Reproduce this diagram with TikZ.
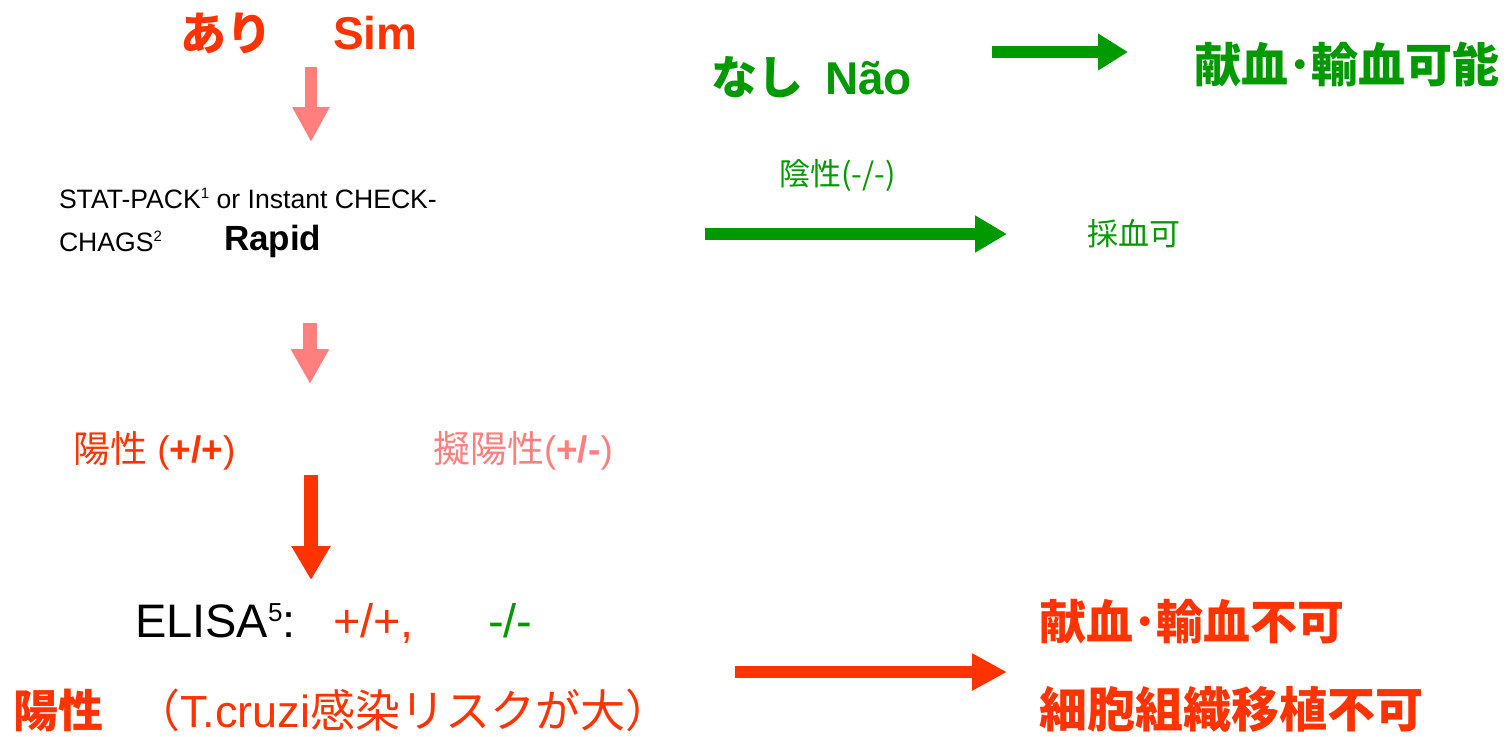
\documentclass[tikz,border=0pt]{standalone}
\usepackage{fontspec}
\setmainfont{Liberation Sans}
\newfontfamily\cjk{Noto Sans CJK JP}
\usetikzlibrary{arrows.meta}
\definecolor{cred}{HTML}{FF3300}
\definecolor{cpink}{HTML}{FF7F7F}
\definecolor{cgreen}{HTML}{009900}
\newcommand\pxfont[1]{\fontsize{#1}{#1}\selectfont}
\newcommand\supx[3]{\raisebox{#2}{\fontsize{#1}{#1}\selectfont #3}}
\tikzset{
  txt/.style={anchor=base west, inner sep=0pt, outer sep=0pt},
  barrow/.style={line width=6pt, -{Triangle[width=17.5pt,length=17.5pt]}},
}
\begin{document}
\begin{tikzpicture}[x=0.5pt,y=-0.5pt]
\useasboundingbox (0,0) rectangle (1512,736);
% top left
\node[txt, text=cred] (ari) at (180,50) {\pxfont{23pt}\cjk\bfseries あり};
\node[txt, text=cred] (sim) at (333,49) {\pxfont{23pt}\bfseries Sim};
% top right
\node[txt, text=cgreen] (nashi) at (711,94) {\pxfont{23pt}\cjk\bfseries なし};
\node[txt, text=cgreen] (nao) at (825,94) {\pxfont{23pt}\bfseries Não};
\node[txt, text=cgreen] (kaketsu) at (1194,82) {\pxfont{23.5pt}\cjk\bfseries 献血･輸血可能};
\node[txt, text=cgreen] (insei) at (779,185) {\pxfont{15.5pt}\cjk 陰性(-/-)};
\node[txt, text=cgreen] (saiketsu) at (1087,245) {\pxfont{15.5pt}\cjk 採血可};
% rapid test
\node[txt] (stat) at (59,208) {\pxfont{13.3pt}STAT-PACK\supx{7.5pt}{4.6pt}{1} or Instant CHECK-};
\node[txt] (chags) at (59,251) {\pxfont{13.3pt}CHAGS\supx{7.5pt}{4.6pt}{2}};
\node[txt] (rapid) at (224,250) {\pxfont{17.5pt}\bfseries Rapid};
% results
\node[txt, text=cred] (yosei) at (73,462) {\pxfont{18.5pt}{\cjk 陽性} (\textbf{+/+})};
\node[txt, text=cpink] (giyosei) at (433,462) {\pxfont{18.5pt}{\cjk 擬陽性}(\textbf{+/-})};
% ELISA
\node[txt] (elisa) at (135,637) {\pxfont{23.5pt}ELISA\supx{13pt}{8pt}{5}:};
\node[txt, text=cred] (elpos) at (333,637) {\pxfont{23.5pt}+/+,};
\node[txt, text=cgreen] (elneg) at (488,637) {\pxfont{23.5pt}-/-};
\node[txt, text=cred] (yosei2) at (13,727) {\pxfont{22.5pt}\cjk\bfseries 陽性};
\node[txt, text=cred] (risk) at (135,727) {\pxfont{22.5pt}{\cjk （}T.cruzi{\cjk 感染リスクが大）}};
\node[txt, text=cred] (fuka1) at (1039,639) {\pxfont{23.5pt}\cjk\bfseries 献血･輸血不可};
\node[txt, text=cred] (fuka2) at (1039,727) {\pxfont{24pt}\cjk\bfseries 細胞組織移植不可};
% arrow coordinates
\coordinate (a1s) at (311,67);  \coordinate (a1e) at (311,142);
\coordinate (a2s) at (310,323); \coordinate (a2e) at (310,384);
\coordinate (a3s) at (311,475); \coordinate (a3e) at (311,580);
\coordinate (a4s) at (992,52);  \coordinate (a4e) at (1128,52);
\coordinate (a5s) at (705,234); \coordinate (a5e) at (1007,234);
\coordinate (a6s) at (735,672); \coordinate (a6e) at (1007,672);
\draw[barrow, cpink] (a1s) -- (a1e);
\draw[barrow, cpink, line width=7pt, -{Triangle[width=18pt,length=17.5pt]}] (a2s) -- (a2e);
\draw[barrow, cred, line width=7pt, -{Triangle[width=18.5pt,length=17pt]}] (a3s) -- (a3e);
\draw[barrow, cgreen, -{Triangle[width=17.5pt,length=15pt]}] (a4s) -- (a4e);
\draw[barrow, cgreen, -{Triangle[width=17.5pt,length=16pt]}] (a5s) -- (a5e);
\draw[barrow, cred] (a6s) -- (a6e);
\end{tikzpicture}
\end{document}
